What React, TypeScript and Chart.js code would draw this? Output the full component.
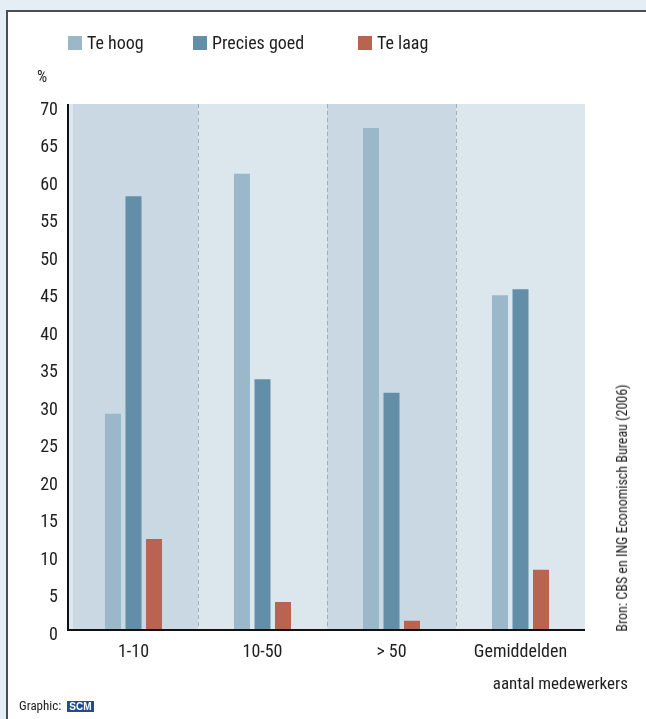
import React, { useEffect, useRef } from "react";
import { Chart, registerables } from "chart.js";

Chart.register(...registerables);

const categories = ["1-10", "10-50", "> 50", "Gemiddelden"];
const teHoog = [28.7, 60.7, 66.8, 44.5];
const preciesGoed = [57.7, 33.3, 31.5, 45.3];
const teLaag = [12.0, 3.6, 1.1, 7.9];
const seriesNames = ["Te hoog", "Precies goed", "Te laag"];
const seriesColors = ["#9bb8ca", "#638ea8", "#b86450"];
const yMax = 70;
const yStep = 5;

const FONT = "'Liberation Sans Narrow', 'Roboto Condensed', 'Arial Narrow', 'Liberation Sans', Arial, sans-serif";

const bandPlugin = {
  id: "bands",
  beforeDatasetsDraw(chart: any) {
    const { ctx, chartArea } = chart;
    const x = chart.scales.x;
    const n = categories.length;
    const w = (chartArea.right - chartArea.left) / n;
    ctx.save();
    ctx.fillStyle = "#dce6ed";
    ctx.fillRect(chartArea.left, chartArea.top, chartArea.right - chartArea.left, chartArea.bottom - chartArea.top);
    for (let i = 0; i < n; i++) {
      const c = x.getPixelForValue(i);
      let l = c - w / 2;
      const r = c + w / 2;
      if (i % 2 === 0) {
        if (i === 0) l += 4;
        ctx.fillStyle = "#cad8e3";
        ctx.fillRect(l, chartArea.top, r - l, chartArea.bottom - chartArea.top);
      }
    }
    ctx.strokeStyle = "#a3aeb8";
    ctx.lineWidth = 1;
    ctx.setLineDash([4, 3]);
    for (let i = 1; i < n; i++) {
      const b = Math.round(x.getPixelForValue(i) - w / 2) + 0.5;
      ctx.beginPath();
      ctx.moveTo(b, chartArea.top);
      ctx.lineTo(b, chartArea.bottom);
      ctx.stroke();
    }
    ctx.restore();
  },
  afterDatasetsDraw(chart: any) {
    const { ctx, chartArea } = chart;
    ctx.save();
    ctx.strokeStyle = "#111";
    ctx.lineWidth = 2;
    ctx.beginPath();
    ctx.moveTo(chartArea.left - 1, chartArea.top);
    ctx.lineTo(chartArea.left - 1, chartArea.bottom + 1);
    ctx.lineTo(chartArea.right, chartArea.bottom + 1);
    ctx.stroke();
    ctx.restore();
  },
};

export default function App() {
  const ref = useRef<HTMLCanvasElement>(null);
  useEffect(() => {
    if (!ref.current) return;
    const data = [teHoog, preciesGoed, teLaag];
    const chart = new Chart(ref.current, {
      type: "bar",
      data: {
        labels: categories,
        datasets: seriesNames.map((name, i) => ({
          label: name,
          data: data[i],
          backgroundColor: seriesColors[i],
          borderWidth: 0,
          categoryPercentage: 0.477,
          barPercentage: 0.78,
        })),
      },
      options: {
        responsive: false,
        animation: false,
        devicePixelRatio: 1,
        layout: { padding: { left: 0, right: 61, top: 104, bottom: 0 } },
        plugins: { legend: { display: false }, tooltip: { enabled: false }, title: { display: false } },
        scales: {
          x: {
            grid: { display: false, drawTicks: false },
            border: { display: false },
            ticks: { color: "#1e1e1e", font: { family: FONT, size: 18 }, padding: 13, maxRotation: 0 },
            afterFit: (s: any) => { s.height = 90; },
          },
          y: {
            min: 0,
            max: yMax,
            grid: { display: false, drawTicks: false },
            border: { display: false },
            ticks: { stepSize: yStep, color: "#1e1e1e", font: { family: FONT, size: 18 }, padding: 11, labelOffset: 6 },
            afterFit: (s: any) => { s.width = 69; },
          },
        },
      },
      plugins: [bandPlugin],
    });
    return () => chart.destroy();
  }, []);

  const text: React.CSSProperties = { position: "absolute", fontFamily: FONT, color: "#1e1e1e", whiteSpace: "nowrap" };
  const legendX = [68, 193, 358];

  return (
    <div style={{ position: "fixed", left: 0, top: 0, width: 646, height: 719, background: "#e4eef4", overflow: "hidden" }}>
      <div style={{ position: "absolute", left: 6, top: 10, width: 700, height: 760, background: "#fff", borderLeft: "2px solid #4a4e52", borderTop: "2px solid #4a4e52" }} />
      <canvas ref={ref} width={646} height={719} style={{ position: "absolute", left: 0, top: 0, width: 646, height: 719 }} />
      {seriesNames.map((name, i) => (
        <div key={name} style={{ ...text, left: legendX[i], top: 32, fontSize: 18, lineHeight: "22px", display: "flex", alignItems: "center" }}>
          <span style={{ display: "inline-block", width: 14, height: 14, background: seriesColors[i], marginRight: 5 }} />
          {name}
        </div>
      ))}
      <div style={{ ...text, left: 37, top: 67, fontSize: 16, lineHeight: "20px" }}>%</div>
      <div style={{ ...text, right: 646 - 628, top: 672, fontSize: 17, lineHeight: "22px" }}>aantal medewerkers</div>
      <div style={{ ...text, left: 19, top: 698, fontSize: 13, lineHeight: "16px", display: "flex", alignItems: "center" }}>
        Graphic:
        <span style={{ marginLeft: 6, background: "#1d4f8f", color: "#fff", fontSize: 10, fontWeight: "bold", lineHeight: "11px", padding: "0 2px", fontFamily: "'Liberation Sans', Arial, sans-serif" }}>SCM</span>
      </div>
      <div style={{ ...text, left: 622, top: 508, fontSize: 14, lineHeight: "16px", transform: "translate(-50%, -50%) rotate(-90deg)" }}>
        Bron: CBS en ING Economisch Bureau (2006)
      </div>
    </div>
  );
}
